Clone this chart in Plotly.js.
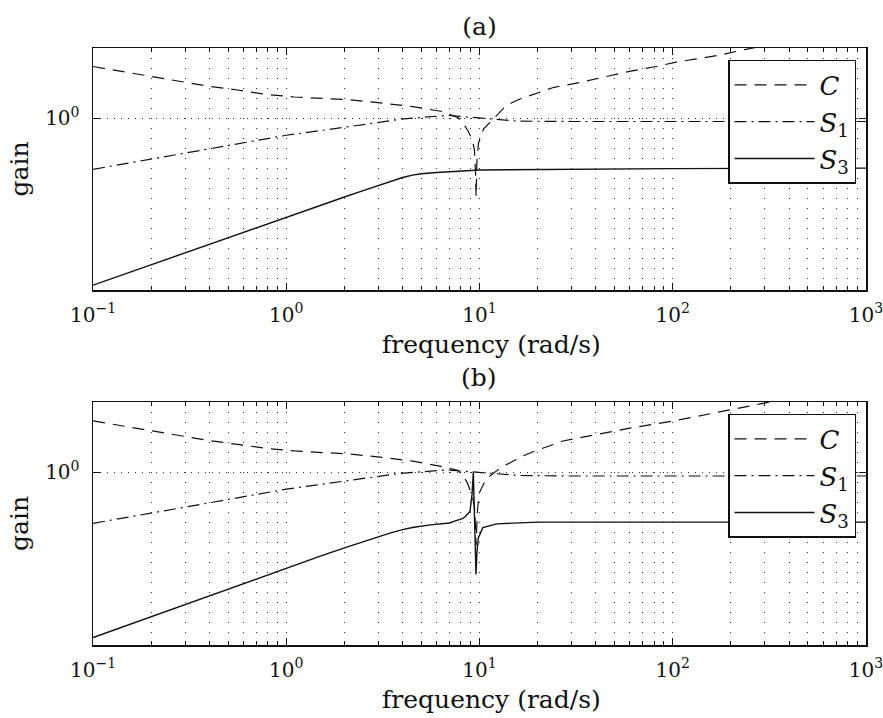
<!DOCTYPE html>
<html>
<head>
<meta charset="utf-8">
<script src="https://cdn.plot.ly/plotly-3.0.1.min.js"></script>
<style>html,body{margin:0;padding:0;background:#fff;}#chart{width:883px;height:718px;}</style>
</head>
<body>
<div id="chart"></div>
<script>
// ---- Panel (a) ----
const freqC_a  = [0.1,0.204,0.29,0.4,0.56,0.8,1.1,1.58,2.16,3.3,4.6,6.3,7.7,8.0,8.7,9.2,9.42,9.55,9.6,9.7,9.88,10.5,11.3,12.0,13.3,14.7,16.3,18.3,24.3,33,43.4,59.7,82,104,173,236,1000];
const gainC_a  = [1.633,1.486,1.416,1.352,1.306,1.250,1.222,1.205,1.189,1.148,1.112,1.067,1.007,0.979,0.889,0.809,0.736,0.581,0.471,0.670,0.787,0.902,0.955,1.007,1.096,1.156,1.202,1.242,1.340,1.403,1.472,1.560,1.633,1.702,1.816,1.919,2.410];
const freqS1_a = [0.1,0.2,0.3,0.5,1,2,3.9,6.8,8,9,10,12,16,30,100,1000];
const gainS1_a = [0.614,0.676,0.715,0.771,0.849,0.916,0.989,1.026,1.016,1.007,0.998,0.989,0.971,0.968,0.968,0.968];
const freqS3_a = [0.1,0.3,0.5,1,1.5,2,2.5,3,3.5,4,4.5,5,6,7,10,100,1000];
const gainS3_a = [0.204,0.278,0.321,0.391,0.437,0.472,0.501,0.527,0.550,0.568,0.581,0.589,0.596,0.600,0.610,0.618,0.621];

// ---- Panel (b) ----
const freqC_b  = [0.1,0.204,0.29,0.4,0.56,0.8,1.1,1.58,2.16,3.3,4.6,6.3,7.7,8.2,8.67,9.2,9.45,9.6,9.75,9.97,10.8,12.8,14.2,16.7,18.8,27,40,60,100,285,1000];
const gainC_b  = [1.628,1.479,1.413,1.352,1.303,1.253,1.225,1.205,1.189,1.148,1.109,1.059,1.019,0.973,0.902,0.794,0.708,0.501,0.692,0.822,0.938,1.042,1.091,1.167,1.213,1.346,1.429,1.521,1.626,1.914,2.371];
const freqS1_b = [0.1,0.2,0.3,0.5,1,2,3.9,6.8,8,9,10,12,16,30,100,1000];
const gainS1_b = [0.617,0.679,0.716,0.773,0.853,0.920,0.991,1.023,1.014,1.007,1.0,0.986,0.971,0.966,0.966,0.966];
const freqS3_b = [0.1,0.3,1,1.5,2,2.5,3,3.5,4,4.5,5.55,7,7.5,8.22,8.5,8.93,9.15,9.29,9.59,9.7,9.86,10.4,12.3,20,100,1000];
const gainS3_b = [0.209,0.286,0.405,0.452,0.489,0.519,0.543,0.565,0.581,0.593,0.608,0.619,0.631,0.646,0.661,0.692,0.813,1.0,0.380,0.468,0.537,0.592,0.614,0.624,0.624,0.624];

// ---- Axis ticks ----
const xMajorVals = [0.1,1,10,100,1000];
const xMajorText = ['10<sup>−1</sup>','10<sup>0</sup>','10<sup>1</sup>','10<sup>2</sup>','10<sup>3</sup>'];
const xMinorVals = [];
[0.1,1,10,100].forEach(d => { for (let k = 2; k <= 9; k++) xMinorVals.push(+(d*k).toPrecision(3)); });
const yTickVals = [1];
const yTickText = ['10<sup>0</sup>'];

const seriesNames = ['<i>C</i>','<i>S</i><sub>1</sub>','<i>S</i><sub>3</sub>'];
const FONT = 'DejaVu Serif';
const INK = '#111';

function mk(x, y, name, dash, width, xa, ya, lg) {
  return {x: x, y: y, name: name, type: 'scatter', mode: 'lines',
    line: {color: INK, width: width, dash: dash},
    xaxis: xa, yaxis: ya, legend: lg, showlegend: true, hoverinfo: 'skip'};
}
const dC = '12px,8px', dS1 = '12px,5px,2px,5px';
const traces = [
  mk(freqC_a, gainC_a, seriesNames[0], dC, 1.2, 'x', 'y', 'legend'),
  mk(freqS1_a, gainS1_a, seriesNames[1], dS1, 1.2, 'x', 'y', 'legend'),
  mk(freqS3_a, gainS3_a, seriesNames[2], 'solid', 1.4, 'x', 'y', 'legend'),
  mk(freqC_b, gainC_b, seriesNames[0], dC, 1.2, 'x2', 'y2', 'legend2'),
  mk(freqS1_b, gainS1_b, seriesNames[1], dS1, 1.2, 'x2', 'y2', 'legend2'),
  mk(freqS3_b, gainS3_b, seriesNames[2], 'solid', 1.4, 'x2', 'y2', 'legend2')
];

function xAxis(anchor) {
  return {type: 'log', range: [-1.0002, 3.0002], anchor: anchor,
    tickmode: 'array', tickvals: xMajorVals, ticktext: xMajorText,
    ticks: 'inside', ticklen: 7, tickwidth: 1, tickcolor: INK,
    showline: true, linecolor: INK, linewidth: 1.5, mirror: 'allticks',
    showgrid: true, gridcolor: '#333', gridwidth: 1, griddash: '1px,9px',
    minor: {tickvals: xMinorVals, ticks: 'inside', ticklen: 4, tickcolor: INK,
      showgrid: true, gridcolor: '#333', gridwidth: 1, griddash: '1px,9px'},
    tickfont: {family: FONT, size: 20, color: INK}, ticklabelstandoff: 6, ticklabeloverflow: 'allow',
    title: {text: '&nbsp;&nbsp;&nbsp;frequency (rad/s)', font: {family: FONT, size: 25, color: INK}, standoff: 10},
    zeroline: false, fixedrange: true};
}
function yAxis(anchor, dom) {
  return {type: 'log', range: [-0.7105, 0.2895], anchor: anchor, domain: dom,
    tickmode: 'array', tickvals: yTickVals, ticktext: yTickText,
    ticks: 'inside', ticklen: 7, tickwidth: 1, tickcolor: INK,
    showline: true, linecolor: INK, linewidth: 1.5, mirror: 'allticks',
    showgrid: true, gridcolor: '#333', gridwidth: 1, griddash: '1px,6px',
    tickfont: {family: FONT, size: 20, color: INK}, ticklabelstandoff: 8, ticklabeloverflow: 'allow',
    title: {text: 'gain', font: {family: FONT, size: 25, color: INK}, standoff: 9},
    zeroline: false, fixedrange: true};
}
function legendBox(ytop) {
  return {x: 0.8215, y: ytop, xanchor: 'left', yanchor: 'top',
    bgcolor: '#fff', bordercolor: INK, borderwidth: 1.5,
    font: {family: FONT, size: 26, color: INK}, itemwidth: 80, tracegroupgap: 0};
}

const layout = {
  width: 883, height: 718,
  margin: {l: 93, r: 17, t: 48, b: 73},
  paper_bgcolor: '#fff', plot_bgcolor: '#fff',
  font: {family: FONT, color: INK},
  showlegend: true,
  title: {text: '(a)', font: {family: FONT, size: 25, color: INK}, x: 0.543, xanchor: 'center', y: 0.964, yanchor: 'middle'},
  xaxis: xAxis('y'),
  yaxis: yAxis('x', [0.5946, 1]),
  xaxis2: xAxis('y2'),
  yaxis2: yAxis('x2', [0, 0.407]),
  legend: legendBox(0.98),
  legend2: legendBox(0.387),
  annotations: [
    {text: '(b)', xref: 'paper', yref: 'paper', x: 0.4994, y: (645 - 377) / 597, xanchor: 'center', yanchor: 'middle',
     showarrow: false, font: {family: FONT, size: 25, color: INK}}
  ]
};

Plotly.newPlot('chart', traces, layout, {displayModeBar: false, staticPlot: true});
</script>
</body>
</html>
